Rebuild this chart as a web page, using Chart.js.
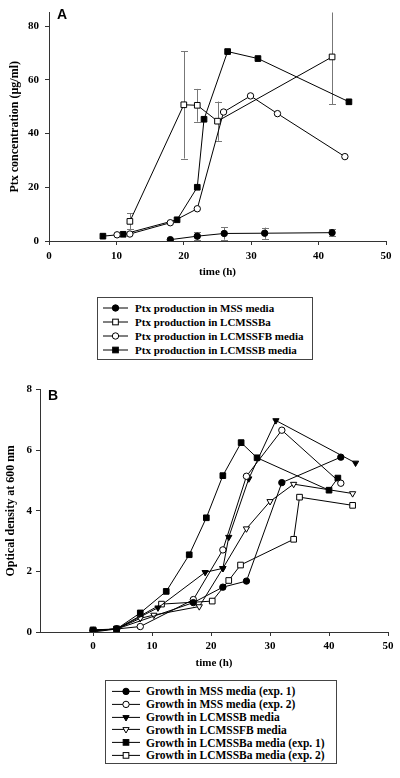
<!DOCTYPE html>
<html>
<head>
<meta charset="utf-8">
<script src="https://cdn.jsdelivr.net/npm/chart.js@4/dist/chart.umd.min.js"></script>
<style>
  body { margin: 0; background: #fff; }
  #page { position: relative; width: 400px; height: 778px; overflow: hidden; font-family: "Liberation Serif", "Times New Roman", serif; }
  canvas { position: absolute; left: 0; }
  .panel { position: absolute; font: bold 14px "Liberation Sans", Arial, sans-serif; line-height: 14px; }
  .legend { position: absolute; border: 1px solid #444; box-sizing: border-box; background: #fff; font-weight: bold; color: #000; }
  .row { display: flex; align-items: center; white-space: nowrap; }
  .row svg { flex: none; }
</style>
</head>
<body>
<div id="page">
  <canvas id="chartA" width="400" height="285" style="top:0"></canvas>
  <canvas id="chartB" width="400" height="296" style="top:379px"></canvas>
  <div class="panel" style="left:57px;top:7px">A</div>
  <div class="panel" style="left:48px;top:388px">B</div>
  <div id="legendA" class="legend" style="left:97px;top:297px;width:216px;height:63px;padding-top:3px;font-size:11px"></div>
  <div id="legendB" class="legend" style="left:105px;top:680px;width:232px;height:84px;padding-top:4px;font-size:11.5px"></div>
</div>
<script>
// ---- panel A: Ptx concentration (ug/ml) vs time (h)
const ptxMssTime = [18, 22, 26, 32, 42];
const ptxMss = [0.5, 1.8, 2.8, 2.9, 3.1];
const ptxMssErr = [0, 1.5, 2.3, 2.1, 1.2];

const ptxBaTime = [12, 20, 22, 25, 42];
const ptxBa = [7.3, 50.7, 50.5, 44.6, 68.5];
const ptxBaErr = [3, 20, 6.1, 7.3, 17.6];

const ptxFbTime = [10.1, 12, 18, 22, 25.9, 29.9, 33.9, 43.9];
const ptxFb = [2.3, 2.6, 6.8, 12, 48, 54, 47.4, 31.4];

const ptxBTime = [8, 11, 19, 22, 23, 26.5, 31, 44.5];
const ptxB = [1.8, 2.5, 7.9, 20, 45.3, 70.5, 67.9, 51.8];

const ptxTicks = [0, 20, 40, 60, 80];
const timeTicks = [0, 10, 20, 30, 40, 50];

const labelsA = [
  'Ptx production in MSS media',
  'Ptx production in LCMSSBa',
  'Ptx production in LCMSSFB media',
  'Ptx production in LCMSSB media'
];

// ---- panel B: optical density at 600 nm vs time (h)
const mss1Time = [0, 4, 17, 22, 26, 32, 42];
const mss1Od = [0.05, 0.1, 0.97, 1.48, 1.68, 4.93, 5.77];

const mss2Time = [0, 4, 8, 17, 22, 26, 32, 42];
const mss2Od = [0.05, 0.1, 0.18, 1.07, 2.71, 5.14, 6.66, 4.91];

const lcbTime = [0, 4, 11, 19, 22, 23, 26.4, 31, 44.5];
const lcbOd = [0, 0.1, 0.8, 1.97, 2.1, 3.13, 5.06, 6.98, 5.58];

const lcfbTime = [0, 4, 8, 10.3, 18, 22, 26, 30, 34, 44];
const lcfbOd = [0.05, 0.1, 0.45, 0.56, 0.84, 2.1, 3.41, 4.31, 4.88, 4.57];

const ba1Time = [0, 4, 8, 12.4, 16.3, 19.2, 22, 25.1, 27.8, 40, 41.5];
const ba1Od = [0.05, 0.1, 0.63, 1.34, 2.55, 3.77, 5.16, 6.25, 5.75, 4.68, 5.08];

const ba2Time = [0, 4, 11.6, 20.2, 23, 25, 34, 35, 44];
const ba2Od = [0.07, 0.1, 0.92, 1.02, 1.7, 2.21, 3.06, 4.45, 4.18];

const odTicks = [0, 2, 4, 6, 8];

const labelsB = [
  'Growth in MSS media (exp. 1)',
  'Growth in MSS media (exp. 2)',
  'Growth in LCMSSB media',
  'Growth in LCMSSFB media',
  'Growth in LCMSSBa media (exp. 1)',
  'Growth in LCMSSBa media (exp. 2)'
];

// marker looks
const filledCircle = { shape: 'circle', r: 3.2, fill: '#000' };
const openCircle = { shape: 'circle', r: 3.2, fill: '#fff' };
const filledSquare = { shape: 'rect', r: 4, fill: '#000' };
const openSquare = { shape: 'rect', r: 4, fill: '#fff' };
const filledDown = { shape: 'triangle', r: 3.6, fill: '#000', rot: 180 };
const openDown = { shape: 'triangle', r: 3.6, fill: '#fff', rot: 180 };

Chart.defaults.font.family = '"Liberation Serif", "Times New Roman", serif';
Chart.defaults.font.weight = 'bold';
Chart.defaults.color = '#000';

function series(label, times, values, look, errors) {
  return {
    label: label,
    data: times.map((t, i) => ({ x: t, y: values[i] })),
    showLine: true,
    tension: 0,
    borderColor: '#000',
    borderWidth: 1,
    pointStyle: look.shape,
    pointRotation: look.rot || 0,
    pointRadius: look.r,
    pointHoverRadius: look.r,
    pointBackgroundColor: look.fill,
    pointBorderColor: '#000',
    pointBorderWidth: 1,
    errors: errors
  };
}

// vertical error bars, drawn under the markers
const errorBars = {
  id: 'errorBars',
  beforeDatasetsDraw(chart) {
    const ctx = chart.ctx;
    const xs = chart.scales.x, ys = chart.scales.y;
    const area = chart.chartArea;
    ctx.save();
    ctx.beginPath();
    ctx.rect(area.left, area.top, area.right - area.left, area.bottom - area.top);
    ctx.clip();
    ctx.strokeStyle = '#777';
    ctx.lineWidth = 1;
    chart.data.datasets.forEach(ds => {
      if (!ds.errors) return;
      ds.data.forEach((p, i) => {
        const e = ds.errors[i];
        if (!e) return;
        const x = Math.round(xs.getPixelForValue(p.x)) + 0.5;
        const y1 = ys.getPixelForValue(p.y + e);
        const y2 = ys.getPixelForValue(p.y - e);
        ctx.beginPath();
        ctx.moveTo(x, y1); ctx.lineTo(x, y2);
        ctx.moveTo(x - 3.5, Math.round(y1) + 0.5); ctx.lineTo(x + 3.5, Math.round(y1) + 0.5);
        ctx.moveTo(x - 3.5, Math.round(y2) + 0.5); ctx.lineTo(x + 3.5, Math.round(y2) + 0.5);
        ctx.stroke();
      });
    });
    ctx.restore();
  }
};

function axis(cfg) {
  const horizontal = cfg.horizontal;
  return {
    type: 'linear',
    min: cfg.min,
    max: cfg.max,
    afterBuildTicks: s => { s.ticks = cfg.ticks.map(v => ({ value: v })); },
    afterFit: s => { if (horizontal) s.height = cfg.size; else s.width = cfg.size; },
    grid: { drawOnChartArea: false, drawTicks: true, tickLength: 4, color: '#333', lineWidth: 1 },
    border: { display: true, color: '#333', width: 1 },
    ticks: { color: '#000', font: { size: 11, weight: 'bold' }, padding: cfg.pad, autoSkip: false, maxRotation: 0 },
    title: {
      display: true, text: cfg.title, color: '#000',
      font: { size: cfg.titleSize, weight: 'bold' },
      padding: cfg.titlePad
    }
  };
}

function makeChart(id, datasets, pad, xCfg, yCfg) {
  return new Chart(document.getElementById(id), {
    type: 'scatter',
    data: { datasets: datasets },
    options: {
      responsive: false,
      animation: false,
      devicePixelRatio: 1,
      layout: { padding: pad },
      plugins: { legend: { display: false }, tooltip: { enabled: false } },
      events: [],
      scales: { x: axis(xCfg), y: axis(yCfg) }
    },
    plugins: [errorBars]
  });
}

const dataA = [
  series(labelsA[0], ptxMssTime, ptxMss, filledCircle, ptxMssErr),
  series(labelsA[1], ptxBaTime, ptxBa, openSquare, ptxBaErr),
  series(labelsA[2], ptxFbTime, ptxFb, openCircle),
  series(labelsA[3], ptxBTime, ptxB, filledSquare)
];
const looksA = [filledCircle, openSquare, openCircle, filledSquare];

makeChart('chartA', dataA, { top: 5, right: 14, left: 0, bottom: 0 },
  { horizontal: true, min: 0, max: 50, ticks: timeTicks, size: 44, pad: 5, title: 'time (h)', titleSize: 11, titlePad: { top: 0, bottom: 6 } },
  { horizontal: false, min: 0, max: 85, ticks: ptxTicks, size: 49, pad: 6, title: 'Ptx concentration (\u00b5g/ml)', titleSize: 12, titlePad: { top: 8, bottom: 0 } });

const dataB = [
  series(labelsB[0], mss1Time, mss1Od, filledCircle),
  series(labelsB[1], mss2Time, mss2Od, openCircle),
  series(labelsB[2], lcbTime, lcbOd, filledDown),
  series(labelsB[3], lcfbTime, lcfbOd, openDown),
  series(labelsB[4], ba1Time, ba1Od, filledSquare),
  series(labelsB[5], ba2Time, ba2Od, openSquare)
];
const looksB = [filledCircle, openCircle, filledDown, openDown, filledSquare, openSquare];

makeChart('chartB', dataB, { top: 7, right: 12, left: 0, bottom: 0 },
  { horizontal: true, min: -9, max: 50, ticks: timeTicks, size: 43, pad: 4, title: 'time (h)', titleSize: 11, titlePad: { top: 0, bottom: 5 } },
  { horizontal: false, min: 0, max: 8, ticks: odTicks, size: 40, pad: 4, title: 'Optical density at 600 nm', titleSize: 12, titlePad: { top: 4, bottom: 0 } });

// html legends with a line sample and marker
function markerSvg(look, w, h) {
  const cx = w / 2, cy = h / 2;
  let m;
  if (look.shape === 'circle') {
    m = `<circle cx="${cx}" cy="${cy}" r="${look.r}" fill="${look.fill}" stroke="#000"/>`;
  } else if (look.shape === 'rect') {
    const s = look.r * Math.SQRT1_2;
    m = `<rect x="${cx - s}" y="${cy - s}" width="${2 * s}" height="${2 * s}" fill="${look.fill}" stroke="#000"/>`;
  } else {
    const r = look.r;
    const pts = [[cx - r * 0.866, cy - r / 2], [cx + r * 0.866, cy - r / 2], [cx, cy + r]];
    m = `<polygon points="${pts.map(p => p.join(',')).join(' ')}" fill="${look.fill}" stroke="#000"/>`;
  }
  return `<svg width="${w}" height="${h}"><line x1="0" y1="${cy}" x2="${w}" y2="${cy}" stroke="#000" stroke-width="1"/>${m}</svg>`;
}

function buildLegend(id, labels, looks, rowH, left, sampleW, gap) {
  const box = document.getElementById(id);
  labels.forEach((lab, i) => {
    const row = document.createElement('div');
    row.className = 'row';
    row.style.height = rowH + 'px';
    row.style.paddingLeft = left + 'px';
    row.innerHTML = markerSvg(looks[i], sampleW, rowH) + `<span style="margin-left:${gap}px">${lab}</span>`;
    box.appendChild(row);
  });
}

buildLegend('legendA', labelsA, looksA, 14, 5, 25, 7);
buildLegend('legendB', labelsB, looksB, 12.8, 6, 28, 6);
</script>
</body>
</html>
